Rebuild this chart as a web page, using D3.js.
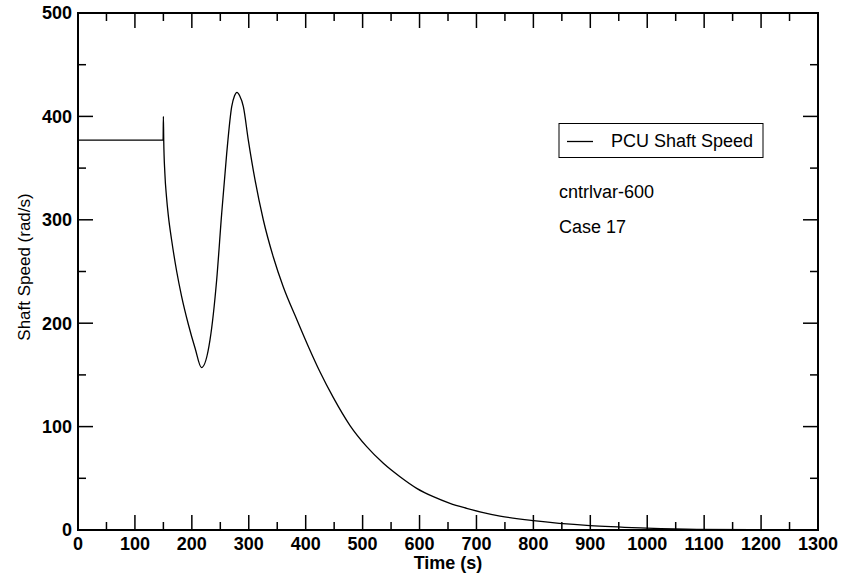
<!DOCTYPE html>
<html>
<head>
<meta charset="utf-8">
<script src="https://cdn.jsdelivr.net/npm/d3@7"></script>
<style>
  body { margin: 0; background: #fff; }
</style>
</head>
<body>
<div id="viz"></div>
<script>
// PCU shaft speed
var timeSec = [0, 149.5, 150, 150.6, 152.6, 155.5, 158.7, 164.6, 173.4, 182, 193.8, 205.6, 217,
  231.9, 243.6, 252.4, 261.2, 270, 275, 279.3, 284, 290.5, 299.2, 311, 325.6, 343.1, 360.7, 384,
  405, 425, 448.6, 477.9, 507.2, 536.4, 565.7, 595, 624.2, 653.5, 682.8, 712, 741.4, 800, 899.5,
  999, 1087, 1200, 1300];
var shaftSpeed = [377, 377, 400, 377, 345, 322, 304, 280, 250, 226, 199, 176, 157,
  183.8, 241.8, 306, 364, 409.4, 420, 423.3, 420, 409.4, 377, 338.5, 299.8, 264, 235, 204,
  177, 153, 128, 101, 80.6, 64.5, 51.5, 40.3, 32.2, 25.8, 21, 16.8, 13.5, 9, 4.2,
  1.9, 0.7, 0.3, 0.2];

var xTicks = d3.range(0, 1301, 100);
var xMinor = d3.range(50, 1300, 100);
var yTicks = [0, 100, 200, 300, 400, 500];
var yMinor = [50, 150, 250, 350, 450];

var seriesName = "PCU Shaft Speed";
var notes = ["cntrlvar-600", "Case 17"];

var W = 843, H = 581;
var m = {top: 13, right: 25, bottom: 51, left: 78};

var svg = d3.select("#viz").append("svg")
  .attr("width", W)
  .attr("height", H)
  .attr("font-family", "'Liberation Sans', Arial, sans-serif");

var x = d3.scaleLinear().domain([0, 1300]).range([m.left, W - m.right]);
var y = d3.scaleLinear().domain([0, 500]).range([H - m.bottom, m.top]);

var x0 = x.range()[0], x1 = x.range()[1], y0 = y.range()[0], y1 = y.range()[1];

// ticks, inward on all four sides
var g = svg.append("g").attr("stroke", "#000").attr("stroke-width", 1.5);
function ticks(vals, len, isX) {
  vals.forEach(function (v) {
    if (isX) {
      g.append("line").attr("x1", x(v)).attr("x2", x(v)).attr("y1", y0).attr("y2", y0 - len);
      g.append("line").attr("x1", x(v)).attr("x2", x(v)).attr("y1", y1).attr("y2", y1 + len);
    } else {
      g.append("line").attr("y1", y(v)).attr("y2", y(v)).attr("x1", x0).attr("x2", x0 + len);
      g.append("line").attr("y1", y(v)).attr("y2", y(v)).attr("x1", x1).attr("x2", x1 - len);
    }
  });
}
ticks(xTicks, 15, true);
ticks(xMinor, 8, true);
ticks(yTicks, 15, false);
ticks(yMinor, 8, false);

svg.append("rect")
  .attr("x", x0).attr("y", y1)
  .attr("width", x1 - x0).attr("height", y0 - y1)
  .attr("fill", "none").attr("stroke", "#000").attr("stroke-width", 2);

// tick labels
svg.selectAll(".xl").data(xTicks).enter().append("text")
  .attr("x", function (d) { return x(d); })
  .attr("y", y0 + 20)
  .attr("text-anchor", "middle")
  .style("font-size", "18px").style("font-weight", "bold")
  .text(function (d) { return d; });

svg.selectAll(".yl").data(yTicks).enter().append("text")
  .attr("x", x0 - 6)
  .attr("y", function (d) { return y(d); })
  .attr("dy", "0.35em")
  .attr("text-anchor", "end")
  .style("font-size", "18px").style("font-weight", "bold")
  .text(function (d) { return d; });

// axis titles
svg.append("text")
  .attr("x", (x0 + x1) / 2).attr("y", 569)
  .attr("text-anchor", "middle")
  .style("font-size", "18px").style("font-weight", "bold")
  .text("Time (s)");

svg.append("text")
  .attr("transform", "translate(30," + 267 + ") rotate(-90)")
  .attr("text-anchor", "middle")
  .style("font-size", "17px")
  .text("Shaft Speed (rad/s)");

// the curve
var line = d3.line()
  .x(function (d, i) { return x(timeSec[i]); })
  .y(function (d) { return y(d); })
  .curve(d3.curveMonotoneX);

svg.append("path")
  .datum(shaftSpeed)
  .attr("d", line)
  .attr("fill", "none")
  .attr("stroke", "#000")
  .attr("stroke-width", 1.3);

// legend
svg.append("rect")
  .attr("x", 559).attr("y", 123.5)
  .attr("width", 204).attr("height", 34)
  .attr("fill", "#fff").attr("stroke", "#000").attr("stroke-width", 1);
svg.append("line")
  .attr("x1", 567).attr("x2", 593).attr("y1", 141.5).attr("y2", 141.5)
  .attr("stroke", "#000").attr("stroke-width", 1.3);
svg.append("text")
  .attr("x", 611).attr("y", 147)
  .style("font-size", "18px")
  .text(seriesName);

svg.selectAll(".note").data(notes).enter().append("text")
  .attr("x", 559)
  .attr("y", function (d, i) { return 198 + i * 35; })
  .style("font-size", "18px")
  .text(function (d) { return d; });
</script>
</body>
</html>
